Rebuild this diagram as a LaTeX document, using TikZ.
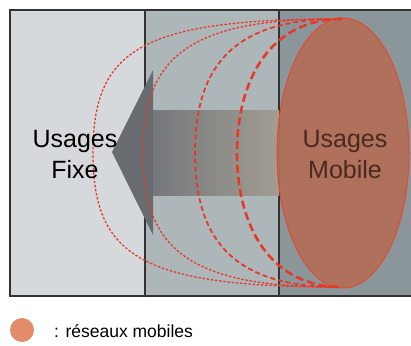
\documentclass[tikz,border=0pt]{standalone}
\usepackage{fontspec}
\setmainfont{Liberation Sans}
\begin{document}
\begin{tikzpicture}[x=1pt,y=-1pt,
  panel/.style={draw=black!80,line width=1.2pt},
  curvefine/.style={draw=curvered,line width=1.3pt,dash pattern=on 2.4pt off 1.8pt},
  curvemid/.style={draw=curvered,line width=1.8pt,dash pattern=on 5pt off 3pt},
  curvebig/.style={draw=curvered,line width=2.6pt,dash pattern=on 8pt off 4pt},
  lbl/.style={font=\fontsize{25}{31}\selectfont,align=center,inner sep=0pt}]
\definecolor{pl}{HTML}{D6D9DB}
\definecolor{pm}{HTML}{ADB6B9}
\definecolor{pr}{HTML}{8B969A}
\definecolor{ellfill}{HTML}{B46C56}
\definecolor{elldraw}{HTML}{E04A35}
\definecolor{curvered}{HTML}{E8382A}
\definecolor{mobtext}{HTML}{4A2A1E}
\definecolor{legfill}{HTML}{E38C6A}
\definecolor{arrhead}{HTML}{686C70}
\definecolor{arrleft}{HTML}{74787C}
\definecolor{arrright}{HTML}{A39D93}
\useasboundingbox (0,0) rectangle (411,345);
\fill[white] (0,0) rectangle (411,345);
% panels
\fill[pl] (10,10) rectangle (145,296);
\fill[pm] (145,10) rectangle (279,296);
\fill[pr] (279,10) rectangle (411,296);
\draw[panel] (411,10) -- (10,10) -- (10,296) -- (411,296);
\draw[panel] (145,10) -- (145,296);
\draw[panel] (279,10) -- (279,296);
% arrow
\shade[left color=arrleft,right color=arrright] (152,110) rectangle (279,195);
\fill[arrhead] (112,152) -- (153,70) -- (153,235) -- cycle;
\node[inner sep=0pt] (arrowtip) at (112,152) {};
% ellipse
\fill[ellfill,opacity=0.9] (343,153) ellipse [x radius=66, y radius=135];
\draw[elldraw,line width=1pt] (343,153) ellipse [x radius=66, y radius=135];
\node[inner sep=0pt] (ell) at (343,153) {};
% dashed curves
\draw[curvefine] (340,19) .. controls (140,19) and (93,50) .. (93,153) .. controls (93,256) and (140,287) .. (340,287);
\draw[curvefine] (335,19) .. controls (185,19) and (143,60) .. (143,153) .. controls (143,246) and (185,287) .. (335,287);
\draw[curvemid] (338,19) .. controls (230,19) and (195,70) .. (195,153) .. controls (195,236) and (230,287) .. (338,287);
\draw[curvebig] (342,19) .. controls (270,19) and (237,80) .. (237,153) .. controls (237,226) and (270,287) .. (342,287);
% labels
\node[lbl] (fixe) at (75,155) {Usages\\Fixe};
\node[lbl,text=mobtext] (mobile) at (345,155) {Usages\\Mobile};
% legend
\fill[legfill] (22,330) circle (12);
\node[inner sep=0pt] (legdot) at (22,330) {};
\node[anchor=west,inner sep=0pt,font=\fontsize{17.5}{20}\selectfont] (legtext) at (54,331) {: réseaux mobiles};
\end{tikzpicture}
\end{document}
